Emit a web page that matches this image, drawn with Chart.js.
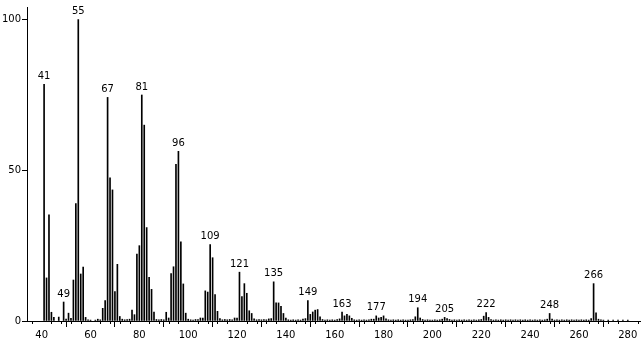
<!DOCTYPE html>
<html>
<head>
<meta charset="utf-8">
<script src="https://cdn.jsdelivr.net/npm/chart.js@4/dist/chart.umd.min.js"></script>
<style>
  html, body { margin: 0; padding: 0; background: #fff; }
  #wrap { width: 644px; height: 339px; }
</style>
</head>
<body>
<div id="wrap"><canvas id="c" width="644" height="339"></canvas></div>
<script>
// m/z values
const masses = [
  41,42,43,44,45,47,49,50,51,52,53,54,55,56,57,58,59,60,62,63,64,65,66,67,68,69,70,71,72,73,74,75,76,77,78,79,
  80,81,82,83,84,85,86,87,88,89,90,91,92,93,94,95,96,97,98,99,100,101,102,103,104,105,106,107,108,109,110,111,112,113,114,115,116,117,118,119,
  120,121,122,123,124,125,126,127,128,129,130,131,132,133,134,135,136,137,138,139,140,141,142,143,144,145,146,147,148,149,150,151,152,153,154,155,156,157,158,159,
  160,161,162,163,164,165,166,167,168,169,170,171,172,173,174,175,176,177,178,179,180,181,182,183,184,185,186,187,188,189,190,191,192,193,194,195,196,197,198,199,
  200,201,202,203,204,205,206,207,208,209,210,211,212,213,214,215,216,217,218,219,220,221,222,223,224,225,226,227,228,229,230,231,232,233,234,235,236,237,238,239,
  240,241,242,243,244,245,246,247,248,249,250,251,252,253,254,255,256,257,258,259,260,261,262,263,264,265,266,267,268,269,270,272,274,276,278,280
];
// relative intensities (%)
const intensities = [
  78.5,14.3,35.2,2.9,1.2,1.3,6.3,0.6,2.6,0.9,13.6,39.0,100,15.6,17.9,1.2,0.4,0.3,0.3,0.6,0.4,4.2,6.8,74.2,47.5,43.5,9.8,18.8,1.5,0.6,0.4,0.5,0.6,3.6,2.1,22.2,
  25.0,75.0,65.0,31.0,14.5,10.5,3.0,0.5,0.4,0.5,0.4,2.9,1.0,15.7,18.0,52.0,56.3,26.3,12.3,2.6,0.6,0.4,0.3,0.5,0.5,1.0,1.0,10.0,9.6,25.4,21.0,8.8,3.2,0.8,0.4,0.5,0.4,0.5,0.4,1.0,
  1.0,16.2,8.1,12.4,9.2,3.4,2.5,0.7,0.4,0.5,0.4,0.5,0.4,0.7,0.8,13.0,6.0,6.0,4.9,2.5,1.0,0.4,0.3,0.4,0.3,0.4,0.3,0.6,0.8,6.8,2.2,3.0,3.6,3.8,1.4,0.5,0.3,0.4,0.3,0.4,
  0.3,0.5,0.7,3.0,1.7,2.2,1.7,0.9,0.4,0.3,0.4,0.3,0.4,0.3,0.4,0.6,0.6,1.7,1.0,1.2,1.7,0.7,0.4,0.3,0.4,0.3,0.4,0.3,0.4,0.3,0.3,0.4,0.5,1.4,4.4,1.0,0.5,0.3,0.4,0.3,
  0.3,0.4,0.3,0.4,0.6,1.2,0.8,0.5,0.3,0.4,0.3,0.4,0.3,0.4,0.3,0.4,0.3,0.4,0.3,0.4,0.5,1.6,2.8,1.2,0.5,0.3,0.4,0.3,0.4,0.3,0.4,0.3,0.4,0.3,0.4,0.3,0.4,0.3,0.4,0.3,
  0.4,0.3,0.4,0.3,0.4,0.3,0.4,0.6,2.5,0.6,0.3,0.4,0.3,0.4,0.3,0.4,0.3,0.4,0.3,0.4,0.3,0.4,0.3,0.4,0.3,0.8,12.4,2.7,0.6,0.4,0.3,0.3,0.3,0.3,0.3,0.3
];
// peaks carrying an m/z label
const labelledPeaks = [41,49,55,67,81,96,109,121,135,149,163,177,194,205,222,248,266];
// axis tick labels
const xTickValues = [40,60,80,100,120,140,160,180,200,220,240,260,280];
const yTickValues = [0,50,100];

const FONT = "'DejaVu Sans', sans-serif";

const points = masses.map((m, i) => ({ x: m, y: intensities[i] }));

const peakLabelPlugin = {
  id: 'peakLabels',
  afterDatasetsDraw(chart) {
    const { ctx, scales } = chart;
    ctx.save();
    ctx.fillStyle = '#000';
    ctx.font = '10px ' + FONT;
    ctx.textAlign = 'center';
    ctx.textBaseline = 'bottom';
    labelledPeaks.forEach(m => {
      const i = masses.indexOf(m);
      if (i < 0) return;
      const px = scales.x.getPixelForValue(m);
      const py = scales.y.getPixelForValue(intensities[i]);
      ctx.fillText(String(m), px, py - 3);
    });
    ctx.restore();
  }
};

const minorTickPlugin = {
  id: 'minorTicks',
  afterDraw(chart) {
    const { ctx, scales, chartArea } = chart;
    const xs = scales.x;
    ctx.save();
    ctx.strokeStyle = '#000';
    ctx.lineWidth = 1;
    ctx.beginPath();
    for (let v = Math.ceil(xs.min / 4) * 4; v <= xs.max; v += 4) {
      if (v % 20 === 0) continue;
      const px = Math.round(xs.getPixelForValue(v)) + 0.5;
      ctx.moveTo(px, chartArea.bottom);
      ctx.lineTo(px, chartArea.bottom + 3);
    }
    ctx.stroke();
    ctx.restore();
  }
};

new Chart(document.getElementById('c'), {
  type: 'bar',
  data: {
    datasets: [{
      data: points,
      backgroundColor: '#000',
      borderWidth: 0,
      barThickness: 1,
      grouped: false
    }]
  },
  options: {
    responsive: false,
    animation: false,
    layout: { padding: { top: 0, right: 4, bottom: 0, left: 0 } },
    plugins: { legend: { display: false }, tooltip: { enabled: false } },
    scales: {
      x: {
        type: 'linear',
        min: 34,
        max: 285,
        offset: false,
        afterBuildTicks: axis => { axis.ticks = xTickValues.map(v => ({ value: v })); },
        afterFit: axis => { axis.height = 18; },
        grid: { drawOnChartArea: false, drawTicks: true, tickLength: 6, color: '#000', tickColor: '#000' },
        border: { display: true, color: '#000', width: 1 },
        ticks: { color: '#000', font: { family: FONT, size: 10 }, padding: 2, maxRotation: 0, autoSkip: false }
      },
      y: {
        min: 0,
        max: 104.2,
        afterBuildTicks: axis => { axis.ticks = yTickValues.map(v => ({ value: v })); },
        afterFit: axis => { axis.width = 27; },
        grid: { drawOnChartArea: false, drawTicks: true, tickLength: 5, color: '#000', tickColor: '#000' },
        border: { display: true, color: '#000', width: 1 },
        ticks: { color: '#000', font: { family: FONT, size: 10 }, padding: 1 }
      }
    }
  },
  plugins: [peakLabelPlugin, minorTickPlugin]
});
</script>
</body>
</html>
